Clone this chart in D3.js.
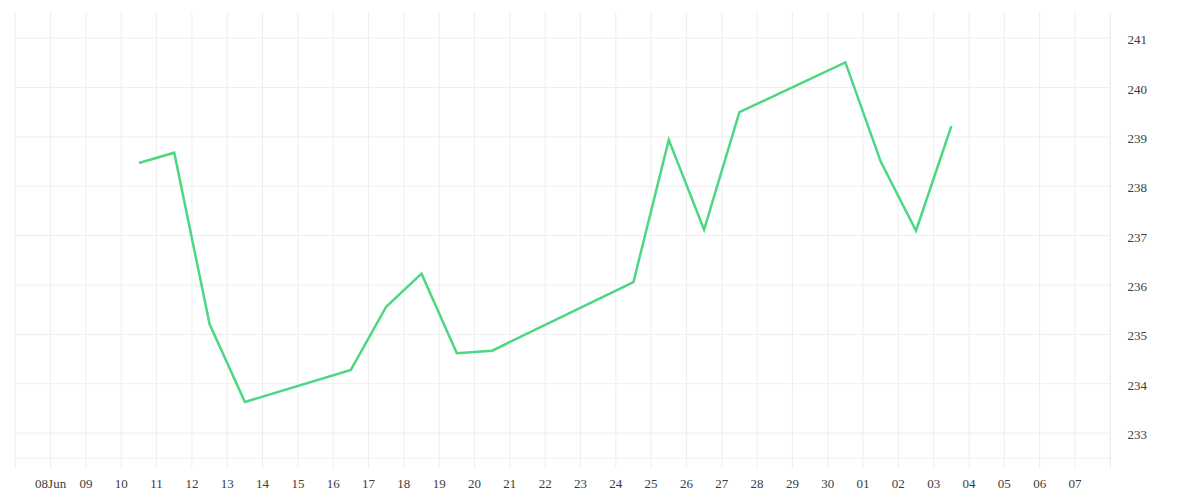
<!DOCTYPE html>
<html>
<head>
<meta charset="utf-8">
<script src="https://cdn.jsdelivr.net/npm/d3@7"></script>
<style>
  html, body { margin: 0; padding: 0; background: #ffffff; }
  svg { display: block; }
  text { font-family: "Liberation Serif", "DejaVu Serif", serif; font-size: 13px; fill: #3c3c3c; }
</style>
</head>
<body>
<svg id="chart" width="1200" height="500"></svg>
<script>
// ---- data ----
const dates = [
  "2024-06-10T12:00", "2024-06-11T12:00", "2024-06-12T12:00", "2024-06-13T12:00",
  "2024-06-16T12:00", "2024-06-17T12:00", "2024-06-18T12:00", "2024-06-19T12:00",
  "2024-06-20T12:00", "2024-06-24T12:00", "2024-06-25T12:00", "2024-06-26T12:00",
  "2024-06-27T12:00", "2024-06-30T12:00", "2024-07-01T12:00", "2024-07-02T12:00",
  "2024-07-03T12:00"
];
const values = [
  238.47, 238.68, 235.21, 233.63,
  234.28, 235.56, 236.23, 234.62,
  234.67, 236.06, 238.94, 237.12,
  239.50, 240.51, 238.50, 237.10,
  239.22
];
const xDomain = ["2024-06-07T00:00", "2024-07-08T00:00"];
const yDomain = [232.49, 241.53];
const yTicks = [233, 234, 235, 236, 237, 238, 239, 240, 241];

// ---- layout ----
const mLeft = 15.3, mRight = 1110.3, mTop = 12, mBottom = 458.3, tickLen = 10;
const parse = d3.utcParse("%Y-%m-%dT%H:%M");
const data = dates.map((d, i) => ({ date: parse(d), value: values[i] }));

const svg = d3.select("#chart");
const x = d3.scaleUtc().domain(xDomain.map(parse)).range([mLeft, mRight]);
const y = d3.scaleLinear().domain(yDomain).range([mBottom, mTop]);

const days = d3.utcDay.range(x.domain()[0], d3.utcDay.offset(x.domain()[1], 1));

// vertical grid (extending into the axis as ticks)
svg.append("g").selectAll("line").data(days).join("line")
  .attr("x1", d => x(d)).attr("x2", d => x(d))
  .attr("y1", mTop).attr("y2", mBottom + tickLen)
  .attr("stroke", "#eeeeee").attr("stroke-width", 1);

// horizontal grid
svg.append("g").selectAll("line").data(yTicks).join("line")
  .attr("x1", mLeft).attr("x2", mRight)
  .attr("y1", d => y(d)).attr("y2", d => y(d))
  .attr("stroke", "#eeeeee").attr("stroke-width", 1);

// bottom line
svg.append("line").attr("x1", mLeft).attr("x2", mRight)
  .attr("y1", mBottom).attr("y2", mBottom)
  .attr("stroke", "#eeeeee").attr("stroke-width", 1);

// right axis line
svg.append("line").attr("x1", mRight).attr("x2", mRight)
  .attr("y1", mTop).attr("y2", mBottom + tickLen)
  .attr("stroke", "#eeeeee").attr("stroke-width", 1);

// x labels
const labelDays = days.slice(1, days.length - 1);
const fmt = (d, i) => i === 0 ? d3.utcFormat("%d")(d) + d3.utcFormat("%b")(d) : d3.utcFormat("%d")(d);
svg.append("g").selectAll("text").data(labelDays).join("text")
  .attr("x", d => x(d)).attr("y", 488)
  .attr("text-anchor", "middle")
  .text((d, i) => fmt(d, i));

// y labels
svg.append("g").selectAll("text").data(yTicks).join("text")
  .attr("x", 1127.5).attr("y", d => y(d) + 1.5)
  .attr("dy", "0.35em")
  .text(d => d);

// line
const line = d3.line().x(d => x(d.date)).y(d => y(d.value));
svg.append("path").datum(data)
  .attr("d", line)
  .attr("fill", "none")
  .attr("stroke", "#4cd882")
  .attr("stroke-width", 2.5)
  .attr("stroke-linejoin", "miter");
</script>
</body>
</html>
